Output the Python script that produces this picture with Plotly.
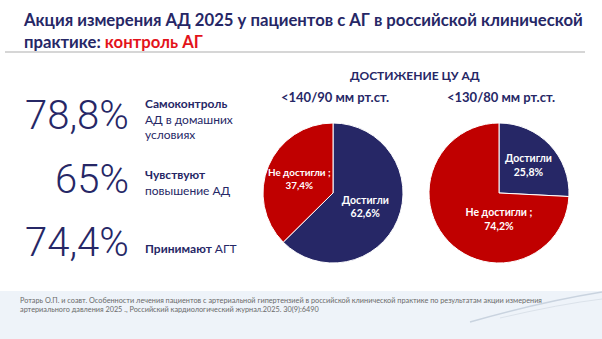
import plotly.graph_objects as go

W, H = 602, 339
NAVY = "#262766"
RED = "#c00000"

# ---- data ----
pie_labels = ["Достигли", "Не достигли ;"]
pie1_values = [62.6, 37.4]
pie2_values = [25.8, 74.2]
pie_titles = ["<140/90 мм рт.ст.", "<130/80 мм рт.ст."]
stat_values = ["78,8%", "65%", "74,4%"]
stat_texts = ["<b>Самоконтроль</b><br>АД в домашних<br>условиях",
              "<b>Чувствуют</b><br>повышение АД",
              "<b>Принимают</b> АГТ"]
heading = "ДОСТИЖЕНИЕ ЦУ АД"
title_main = "Акция измерения АД 2025 у пациентов с АГ в российской клинической"
title_line2 = "практике: "
title_red = "контроль АГ"
footer = ("Ротарь О.П. и соавт. Особенности лечения пациентов с артериальной гипертензией в российской клинической практике по результатам акции измерения<br>"
          "артериального давления 2025 ., Российский кардиологический журнал.2025. 30(9):6490")


def px(x):
    return x / W


def py(y):
    return 1 - y / H


def fmt(v):
    return f"{v:.1f}".replace(".", ",") + "%"


fig = go.Figure()

R = 70
centers = [(333, 193), (499, 193)]
for (cx, cy), vals in zip(centers, [pie1_values, pie2_values]):
    fig.add_trace(go.Pie(
        labels=pie_labels,
        values=vals,
        text=[f"{l}<br>{fmt(v)}" for l, v in zip(pie_labels, vals)],
        texttemplate="%{text}",
        textposition="inside",
        insidetextorientation="horizontal",
        textfont=dict(family="Lato", size=10.5, color="white", weight="bold"),
        marker=dict(colors=[NAVY, RED], line=dict(color="white", width=1)),
        sort=False,
        direction="clockwise",
        rotation=0,
        showlegend=False,
        hoverinfo="skip",
        domain=dict(x=[px(cx - R), px(cx + R)], y=[py(cy + R), py(cy - R)]),
    ))

ann = []
# title
ann.append(dict(
    x=px(21), y=py(8), xref="paper", yref="paper", xanchor="left", yanchor="top",
    align="left", showarrow=False,
    text=f"<b>{title_main}<br>{title_line2}<span style='color:#e3131b'>{title_red}</span></b>",
    font=dict(family="Lato", size=16.7, color=NAVY),
))
# heading
ann.append(dict(x=px(415), y=py(75), xref="paper", yref="paper", xanchor="center",
                yanchor="middle", showarrow=False,
                text=f"<b>{heading}</b>", font=dict(family="Lato", size=12, color=NAVY)))
for (cx, cy), t in zip(centers, pie_titles):
    ann.append(dict(x=px(cx + 2), y=py(97), xref="paper", yref="paper", xanchor="center",
                    yanchor="middle", showarrow=False,
                    text=f"<b>{t}</b>", font=dict(family="Lato", size=13, color=NAVY)))
# stats
stat_y = [116, 179, 242]
desc_y = [119, 182, 248]
for v, t, y, dy in zip(stat_values, stat_texts, stat_y, desc_y):
    ann.append(dict(x=px(131), y=py(y), xref="paper", yref="paper", xanchor="right",
                    yanchor="middle", showarrow=False, text=v,
                    font=dict(family="Roboto", size=40, color=NAVY, weight=300)))
    ann.append(dict(x=px(143), y=py(dy), xref="paper", yref="paper", xanchor="left",
                    yanchor="middle", align="left", showarrow=False, text=t,
                    font=dict(family="Lato", size=12, color=NAVY)))
# footer
ann.append(dict(x=px(18), y=py(305), xref="paper", yref="paper", xanchor="left",
                yanchor="middle", align="left", showarrow=False, text=footer,
                font=dict(family="Lato", size=7.3, color="#6a6a6a")))

shapes = [
    dict(type="rect", xref="paper", yref="paper", x0=0, x1=1, y0=0, y1=py(291),
         fillcolor="#eef3f9", line=dict(width=0), layer="below"),
    dict(type="line", xref="paper", yref="paper", x0=px(5), x1=px(585), y0=py(52), y1=py(52),
         line=dict(color="#d6d6d6", width=2)),
    dict(type="path", xref="paper", yref="paper",
         path=f"M {px(470)},{py(322)} Q {px(540)},{py(302)} {px(602)},{py(292)}",
         line=dict(color="#c9d3df", width=1.5)),
    dict(type="path", xref="paper", yref="paper",
         path=f"M {px(500)},{py(318)} Q {px(560)},{py(304)} {px(602)},{py(299)}",
         line=dict(color="#dbe2ea", width=1)),
]

fig.update_layout(
    width=W, height=H,
    margin=dict(l=0, r=0, t=0, b=0),
    paper_bgcolor="white", plot_bgcolor="white",
    annotations=ann, shapes=shapes,
)

fig.write_html("out.html")
